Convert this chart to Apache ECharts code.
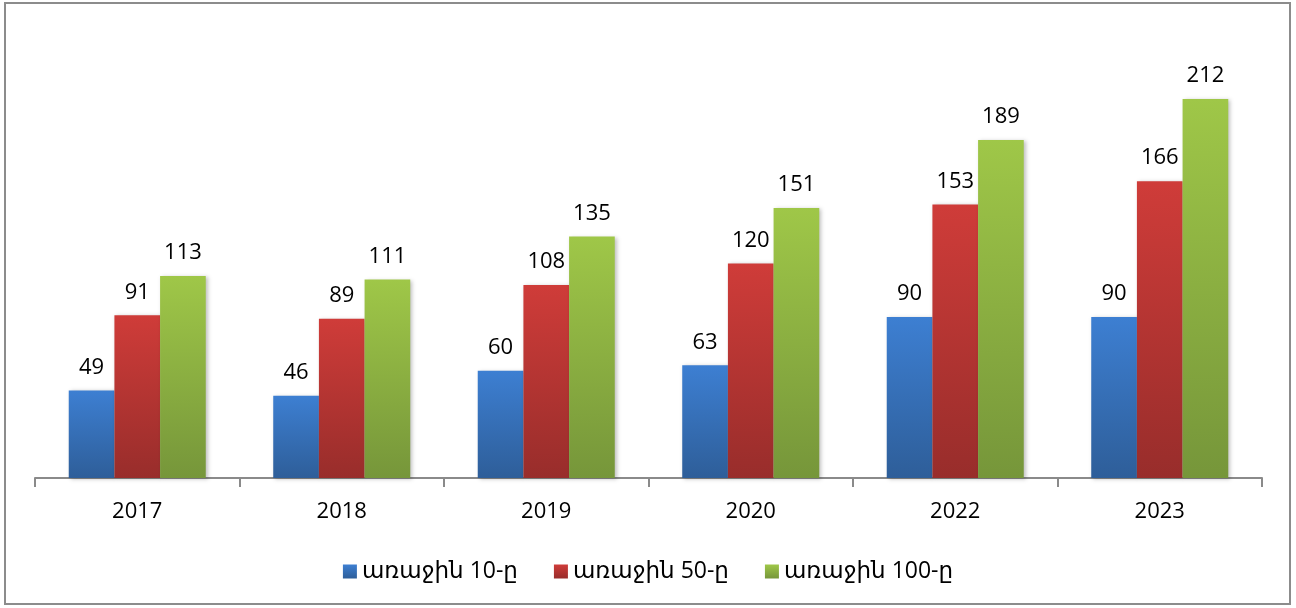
<!DOCTYPE html>
<html>
<head>
<meta charset="utf-8">
<script src="https://cdn.jsdelivr.net/npm/echarts@6/dist/echarts.min.js"></script>
<style>
  html, body { margin: 0; padding: 0; background: #fff; }
  #chart { width: 1296px; height: 608px; }
</style>
</head>
<body>
<div id="chart"></div>
<script>
const years = ['2017', '2018', '2019', '2020', '2022', '2023']
const seriesNames = ['առաջին 10-ը', 'առաջին 50-ը', 'առաջին 100-ը']
const top10 = [49, 46, 60, 63, 90, 90]
const top50 = [91, 89, 108, 120, 153, 166]
const top100 = [113, 111, 135, 151, 189, 212]

const font = '"Open Sans", "DejaVu Sans", sans-serif'

function grad(top, bottom) {
  return new echarts.graphic.LinearGradient(0, 0, 0, 1, [
    { offset: 0, color: top },
    { offset: 1, color: bottom }
  ])
}

const colors = [
  grad('#3d7fd2', '#2e5e99'),
  grad('#cf3c39', '#982d2b'),
  grad('#9fc748', '#76963a')
]

function makeSeries(name, data, color) {
  return {
    name: name,
    type: 'bar',
    data: data,
    barGap: 0,
    barCategoryGap: '33%',
    itemStyle: {
      color: color,
      shadowColor: 'rgba(0,0,0,0.25)',
      shadowBlur: 4,
      shadowOffsetX: 2,
      shadowOffsetY: 1
    },
    label: {
      show: true,
      position: 'top',
      distance: 12,
      fontSize: 22,
      fontFamily: font,
      color: '#000'
    }
  }
}

const chart = echarts.init(document.getElementById('chart'))
chart.setOption({
  animation: false,
  color: ['#3c7dd0', '#cc3b38', '#9dc545'],
  graphic: [{
    type: 'rect',
    shape: { x: 5, y: 3, width: 1285, height: 601 },
    style: { fill: 'none', stroke: '#8c8c8c', lineWidth: 2 },
    silent: true
  }],
  grid: { left: 35, right: 34, top: 31, bottom: 130 },
  legend: {
    bottom: 20,
    left: 'center',
    itemWidth: 14,
    itemHeight: 14,
    itemGap: 36,
    icon: 'rect',
    textStyle: { fontSize: 23, fontFamily: font, color: '#000' },
    data: seriesNames
  },
  xAxis: {
    type: 'category',
    data: years,
    axisLine: { lineStyle: { color: '#8a8a8a', width: 2 } },
    axisTick: { show: true, length: 9, lineStyle: { color: '#8a8a8a', width: 2 } },
    axisLabel: { fontSize: 22, fontFamily: font, color: '#000', margin: 23 }
  },
  yAxis: {
    type: 'value',
    min: 0,
    max: 250,
    show: false,
    splitLine: { show: false }
  },
  series: [
    makeSeries(seriesNames[0], top10, colors[0]),
    makeSeries(seriesNames[1], top50, colors[1]),
    makeSeries(seriesNames[2], top100, colors[2])
  ]
})
</script>
</body>
</html>
